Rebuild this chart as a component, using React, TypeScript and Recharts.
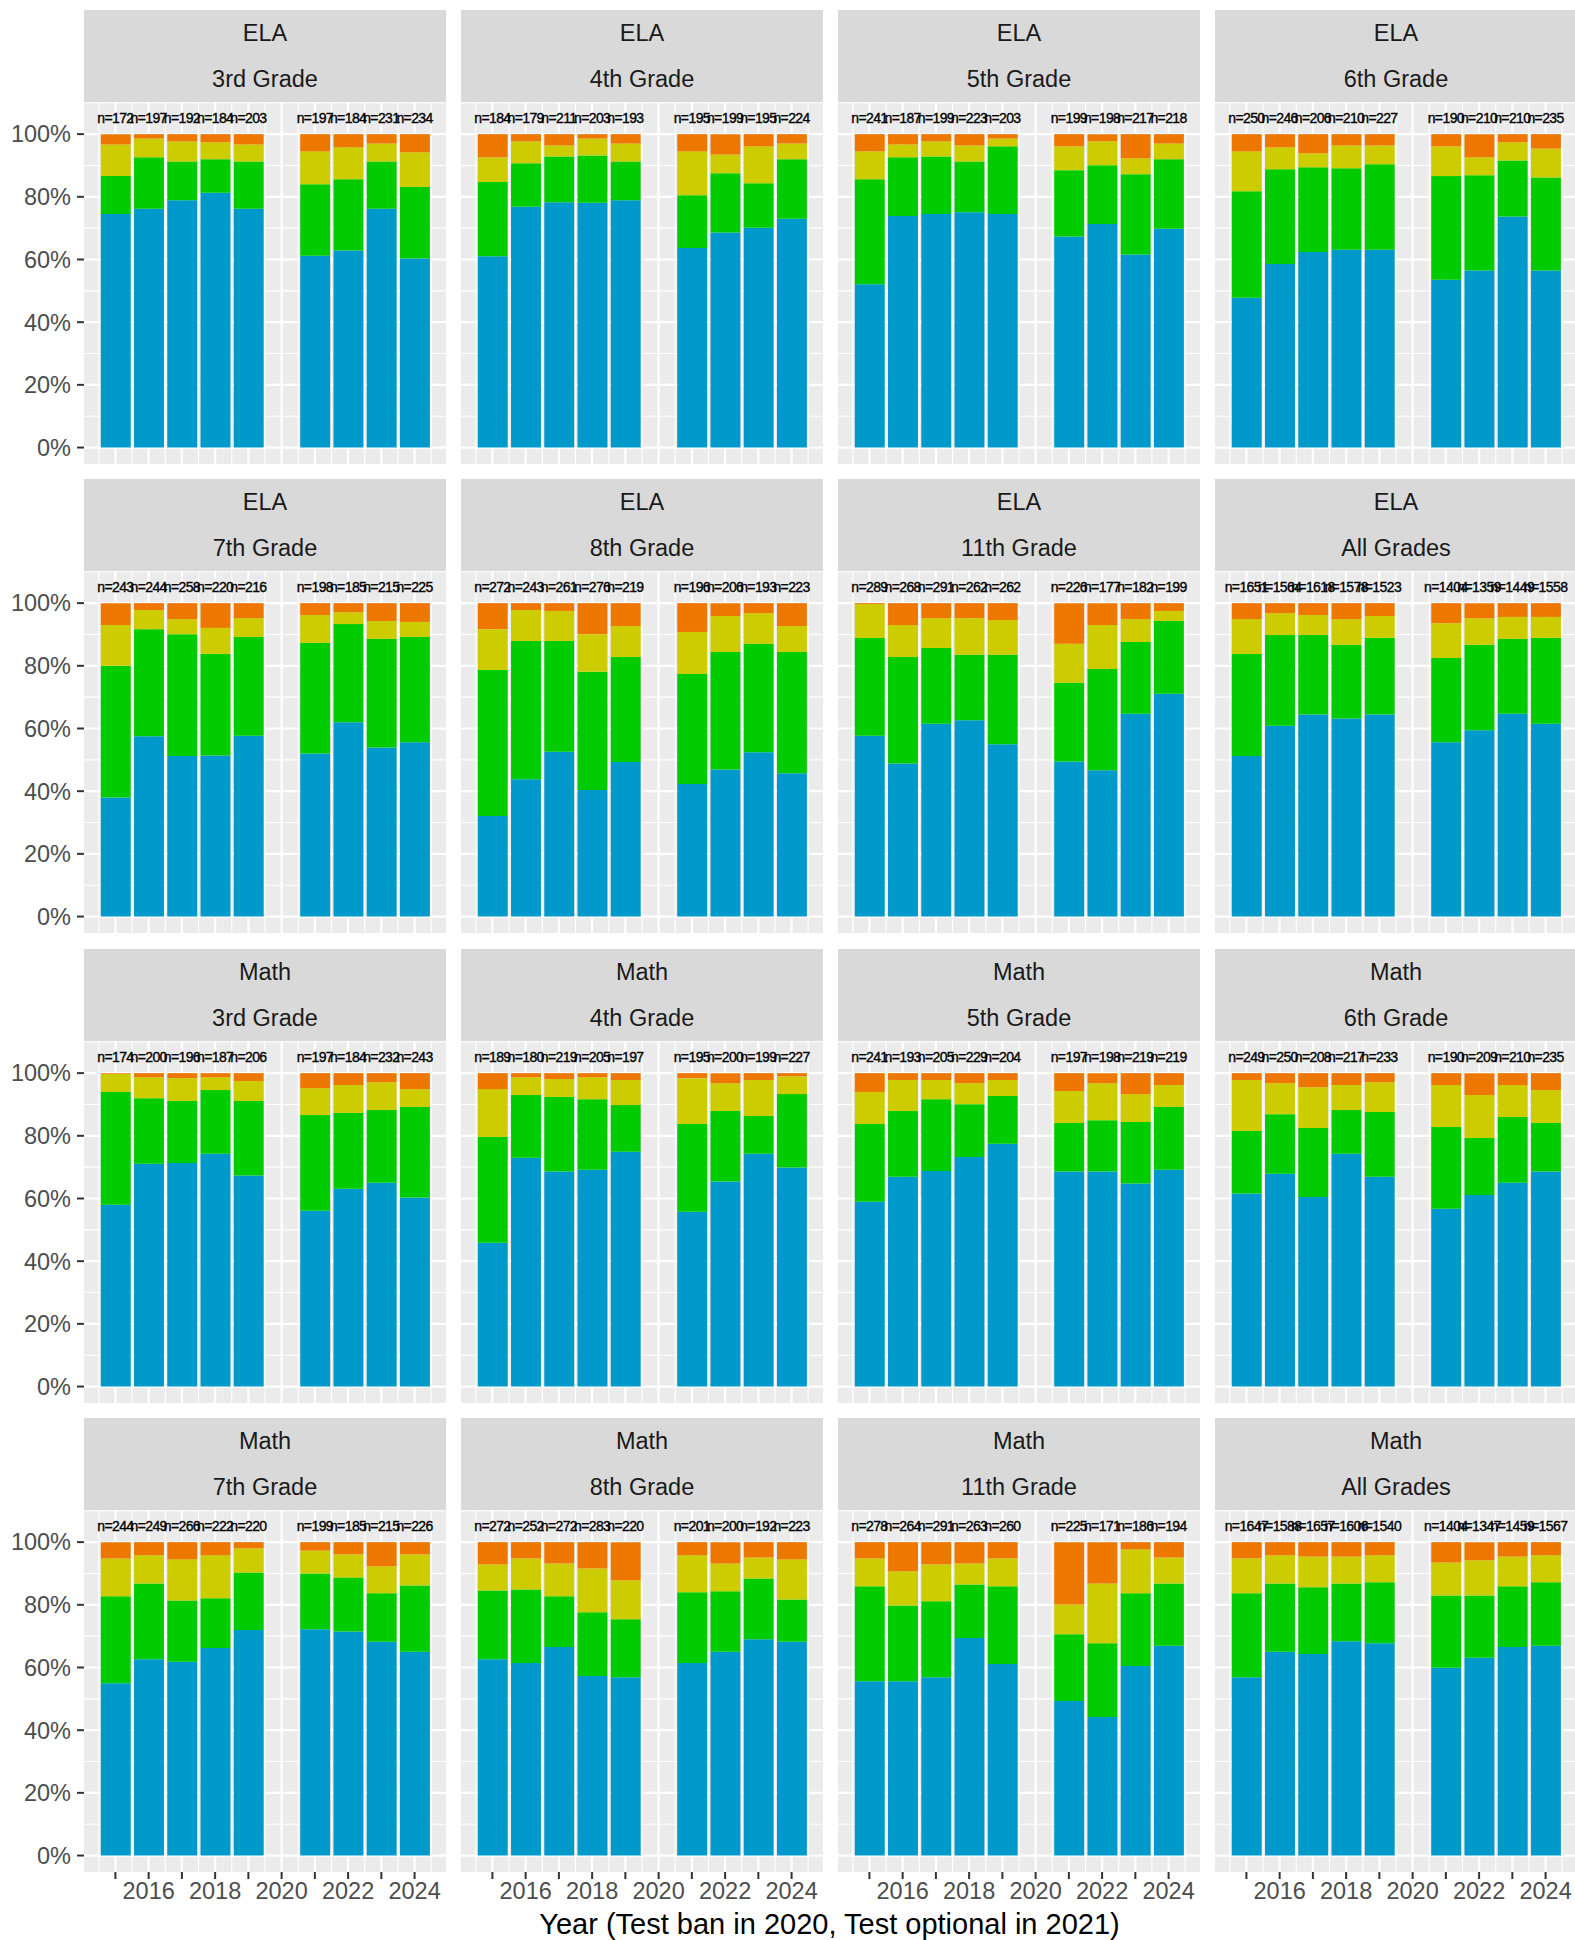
import { ComposedChart, Bar, Scatter, XAxis, YAxis, CartesianGrid } from 'recharts';

// years with data (no test in 2020)
const YEARS = [2015, 2016, 2017, 2018, 2019, 2021, 2022, 2023, 2024];
const AXIS_YEARS = [2015, 2016, 2017, 2018, 2019, 2020, 2021, 2022, 2023, 2024];
const X_MINOR = [2014.5, 2015.5, 2016.5, 2017.5, 2018.5, 2019.5, 2020.5, 2021.5, 2022.5, 2023.5, 2024.5];
const Y_TICKS = [0, 0.2, 0.4, 0.6, 0.8, 1];
const Y_MINOR = [0.1, 0.3, 0.5, 0.7, 0.9, 1.1];

const SUBJECTS = ['ELA', 'ELA', 'ELA', 'ELA', 'ELA', 'ELA', 'ELA', 'ELA',
    'Math', 'Math', 'Math', 'Math', 'Math', 'Math', 'Math', 'Math'];
const GRADES = ['3rd Grade', '4th Grade', '5th Grade', '6th Grade', '7th Grade', '8th Grade', '11th Grade', 'All Grades',
    '3rd Grade', '4th Grade', '5th Grade', '6th Grade', '7th Grade', '8th Grade', '11th Grade', 'All Grades'];

// shares in percent, one row per panel (ELA 3rd ... Math All)
const bluePct = [
    [74.5, 76.2, 78.9, 81.3, 76.2, 61.2, 62.9, 76.2, 60.3],
    [61.0, 76.8, 78.3, 78.1, 78.9, 63.7, 68.6, 70.1, 73.0],
    [52.1, 73.9, 74.5, 75.1, 74.5, 67.3, 71.3, 61.6, 69.8],
    [47.8, 58.6, 62.4, 63.1, 63.1, 53.5, 56.5, 73.7, 56.5],
    [38.0, 57.5, 51.2, 51.4, 57.7, 52.0, 62.0, 53.9, 55.6],
    [32.1, 43.8, 52.6, 40.4, 49.3, 42.3, 46.9, 52.4, 45.7],
    [57.7, 48.8, 61.5, 62.6, 55.0, 49.5, 46.7, 64.7, 71.1],
    [51.2, 60.9, 64.5, 63.2, 64.5, 55.6, 59.4, 64.7, 61.5],
    [58.0, 71.1, 71.3, 74.3, 67.3, 56.1, 63.1, 65.0, 60.3],
    [45.9, 73.0, 68.6, 69.2, 74.9, 55.8, 65.4, 74.3, 69.9],
    [59.0, 66.9, 68.8, 73.2, 77.5, 68.6, 68.6, 64.8, 69.2],
    [61.6, 67.9, 60.5, 74.3, 66.9, 56.7, 61.1, 65.0, 68.6],
    [55.0, 62.6, 61.8, 66.2, 72.0, 72.2, 71.5, 68.2, 65.0],
    [62.6, 61.4, 66.5, 57.3, 56.9, 61.4, 65.0, 69.0, 68.2],
    [55.6, 55.6, 56.9, 69.4, 61.1, 49.3, 44.2, 60.5, 66.9],
    [56.9, 65.0, 64.3, 68.4, 67.7, 59.9, 63.1, 66.5, 66.9],
];

const greenPct = [
    [12.1, 16.4, 12.4, 10.7, 15.1, 22.8, 22.7, 15.1, 22.8],
    [23.7, 13.9, 14.6, 15.1, 12.4, 16.8, 18.9, 14.2, 19.0],
    [33.5, 18.7, 18.4, 16.2, 21.6, 21.2, 18.8, 25.6, 22.2],
    [34.0, 30.2, 27.0, 26.0, 27.3, 33.1, 30.4, 17.9, 29.7],
    [42.0, 34.2, 38.9, 32.4, 31.5, 35.3, 31.3, 34.7, 33.6],
    [46.6, 44.1, 35.3, 37.7, 33.5, 35.1, 37.5, 34.6, 38.7],
    [31.2, 34.0, 24.2, 20.9, 28.5, 25.1, 32.3, 22.9, 23.2],
    [32.6, 28.9, 25.3, 23.5, 24.4, 26.9, 27.3, 23.9, 27.4],
    [36.0, 20.9, 19.8, 20.3, 23.8, 30.5, 24.2, 23.2, 28.9],
    [33.7, 20.0, 23.8, 22.5, 14.9, 28.0, 22.5, 12.0, 23.4],
    [24.8, 21.0, 22.9, 16.9, 15.2, 15.5, 16.4, 19.6, 20.0],
    [19.9, 19.0, 22.0, 13.9, 20.7, 26.1, 18.2, 21.0, 15.5],
    [27.7, 24.2, 19.6, 15.9, 18.3, 17.8, 17.2, 15.5, 21.2],
    [22.0, 23.5, 16.2, 20.3, 18.5, 22.6, 19.3, 19.4, 13.5],
    [30.3, 24.2, 24.2, 17.1, 24.8, 21.3, 23.5, 23.2, 19.9],
    [26.8, 21.8, 21.3, 18.4, 19.5, 23.1, 19.9, 19.4, 20.3],
];

const yellowPct = [
    [10.1, 6.0, 6.4, 5.4, 5.4, 10.5, 10.2, 5.7, 11.1],
    [7.9, 7.0, 3.5, 5.4, 5.7, 14.0, 6.0, 11.8, 5.0],
    [8.9, 4.1, 4.8, 5.1, 2.5, 7.6, 7.6, 5.1, 5.0],
    [12.7, 7.0, 4.5, 7.3, 6.0, 9.5, 5.7, 5.8, 9.2],
    [13.0, 6.1, 4.8, 8.3, 6.0, 8.9, 3.8, 5.7, 4.8],
    [13.0, 9.9, 9.6, 12.0, 9.9, 13.4, 11.5, 9.8, 8.3],
    [10.8, 10.2, 9.5, 11.7, 11.1, 12.4, 14.0, 7.3, 3.2],
    [11.1, 7.0, 6.4, 8.2, 7.0, 11.1, 8.5, 7.0, 6.7],
    [5.7, 6.7, 7.3, 4.1, 6.4, 8.6, 8.9, 8.9, 5.7],
    [15.3, 5.7, 5.7, 7.0, 8.0, 14.6, 8.9, 11.5, 5.7],
    [10.2, 9.9, 6.1, 6.7, 5.1, 10.2, 11.8, 8.9, 7.0],
    [16.3, 9.9, 13.0, 8.0, 9.5, 13.4, 13.7, 10.2, 10.5],
    [12.1, 9.0, 13.1, 13.7, 7.7, 7.3, 7.4, 8.6, 9.9],
    [8.3, 9.9, 10.5, 14.0, 12.4, 11.8, 8.9, 6.7, 12.8],
    [8.9, 10.9, 11.8, 6.7, 8.9, 9.5, 19.1, 14.0, 8.3],
    [11.1, 9.0, 9.8, 8.6, 8.6, 10.5, 11.2, 9.5, 8.6],
];

const orangePct = [
    [3.3, 1.4, 2.3, 2.6, 3.3, 5.5, 4.2, 3.0, 5.8],
    [7.4, 2.3, 3.6, 1.4, 3.0, 5.5, 6.5, 3.9, 3.0],
    [5.5, 3.3, 2.3, 3.6, 1.4, 3.9, 2.3, 7.7, 3.0],
    [5.5, 4.2, 6.1, 3.6, 3.6, 3.9, 7.4, 2.6, 4.6],
    [7.0, 2.2, 5.1, 7.9, 4.8, 3.8, 2.9, 5.7, 6.0],
    [8.3, 2.2, 2.5, 9.9, 7.3, 9.2, 4.1, 3.2, 7.3],
    [0.3, 7.0, 4.8, 4.8, 5.4, 13.0, 7.0, 5.1, 2.5],
    [5.1, 3.2, 3.8, 5.1, 4.1, 6.4, 4.8, 4.4, 4.4],
    [0.3, 1.3, 1.6, 1.3, 2.5, 4.8, 3.8, 2.9, 5.1],
    [5.1, 1.3, 1.9, 1.3, 2.2, 1.6, 3.2, 2.2, 1.0],
    [6.0, 2.2, 2.2, 3.2, 2.2, 5.7, 3.2, 6.7, 3.8],
    [2.2, 3.2, 4.5, 3.8, 2.9, 3.8, 7.0, 3.8, 5.4],
    [5.2, 4.2, 5.5, 4.2, 2.0, 2.7, 3.9, 7.7, 3.9],
    [7.1, 5.2, 6.8, 8.4, 12.2, 4.2, 6.8, 4.9, 5.5],
    [5.2, 9.3, 7.1, 6.8, 5.2, 19.9, 13.2, 2.3, 4.9],
    [5.2, 4.2, 4.6, 4.6, 4.2, 6.5, 5.8, 4.6, 4.2],
];

const nCounts = [
    [172, 197, 192, 184, 203, 197, 184, 231, 234],
    [184, 179, 211, 203, 193, 195, 199, 195, 224],
    [241, 187, 199, 223, 203, 199, 198, 217, 218],
    [250, 246, 206, 210, 227, 190, 210, 210, 235],
    [243, 244, 258, 220, 216, 198, 185, 215, 225],
    [272, 243, 261, 276, 219, 196, 206, 193, 223],
    [289, 268, 291, 262, 262, 226, 177, 182, 199],
    [1651, 1564, 1618, 1578, 1523, 1404, 1359, 1449, 1558],
    [174, 200, 196, 187, 206, 197, 184, 232, 243],
    [189, 180, 219, 205, 197, 195, 200, 199, 227],
    [241, 193, 205, 229, 204, 197, 198, 219, 219],
    [249, 250, 208, 217, 233, 190, 209, 210, 235],
    [244, 249, 266, 222, 220, 199, 185, 215, 226],
    [272, 252, 272, 283, 220, 201, 200, 192, 223],
    [278, 264, 291, 263, 260, 225, 171, 186, 194],
    [1647, 1588, 1657, 1606, 1540, 1404, 1347, 1459, 1567],
];

const N_LABEL_Y = 1.05;

const SERIES = [
    { key: 'blue', color: '#0099CC', values: bluePct },
    { key: 'green', color: '#00CC00', values: greenPct },
    { key: 'yellow', color: '#CCCC00', values: yellowPct },
    { key: 'orange', color: '#EE7700', values: orangePct },
];

const FONT = '"Liberation Sans", Arial, Helvetica, sans-serif';
const PANEL_LEFT = 84;
const COL_STEP = 377;
const PANEL_W = 362;
const ROW_TOP = 10;
const ROW_STEP = 469.3;
const STRIP_H = 92;
const PLOT_H = 362;
const X_AXIS_H = 60;
const X_DOMAIN = [2014.055, 2024.945];
const Y_DOMAIN = [-0.0525, 1.1025];
const BAR_W = (PANEL_W / (X_DOMAIN[1] - X_DOMAIN[0])) * 0.9;

function buildRows(panel: number) {
    return YEARS.map((year, i) => {
        const total = SERIES.reduce((s, ser) => s + ser.values[panel][i], 0);
        const row: any = { year, n: nCounts[panel][i], nY: N_LABEL_Y };
        SERIES.forEach((ser) => {
            row[ser.key] = ser.values[panel][i] / total;
        });
        return row;
    });
}

// eslint-disable-next-line @typescript-eslint/no-explicit-any
const NLabel = (props: any) => {
    const { cx, cy, payload } = props;
    return (
        <text
            x={cx}
            y={cy}
            textAnchor="middle"
            dominantBaseline="central"
            fontSize={14}
            letterSpacing={-0.6}
            fontFamily={FONT}
            fill="#000000"
            stroke="#000000"
            strokeWidth={0.35}
        >
            {`n=${payload.n}`}
        </text>
    );
};

function Panel({ index }: { index: number }) {
    const col = index % 4;
    const row = Math.floor(index / 4);
    const left = PANEL_LEFT + col * COL_STEP;
    const top = ROW_TOP + row * ROW_STEP;
    const showY = col === 0;
    const showX = row === 3;
    const data = buildRows(index);

    return (
        <>
            {/* facet strip */}
            <div
                style={{
                    position: 'absolute',
                    left,
                    top,
                    width: PANEL_W,
                    height: STRIP_H,
                    background: '#D9D9D9',
                    color: '#1A1A1A',
                    fontSize: 23.5,
                    textAlign: 'center',
                }}
            >
                <div style={{ position: 'absolute', left: 0, right: 0, top: 23, transform: 'translateY(-50%)', lineHeight: '28px' }}>
                    {SUBJECTS[index]}
                </div>
                <div style={{ position: 'absolute', left: 0, right: 0, top: 69, transform: 'translateY(-50%)', lineHeight: '28px' }}>
                    {GRADES[index]}
                </div>
            </div>

            <div style={{ position: 'absolute', left: showY ? 0 : left, top: top + STRIP_H }}>
                <ComposedChart
                    width={showY ? left + PANEL_W : PANEL_W}
                    height={PLOT_H + (showX ? X_AXIS_H : 0)}
                    data={data}
                    margin={{ top: 0, right: 0, bottom: 0, left: 0 }}
                >
                    <CartesianGrid
                        fill="#EBEBEB"
                        stroke="#FFFFFF"
                        strokeWidth={1.1}
                        horizontalValues={Y_MINOR}
                        verticalValues={X_MINOR}
                    />
                    <CartesianGrid
                        stroke="#FFFFFF"
                        strokeWidth={2.2}
                        horizontalValues={Y_TICKS}
                        verticalValues={AXIS_YEARS}
                    />
                    <XAxis
                        type="number"
                        dataKey="year"
                        domain={X_DOMAIN}
                        allowDataOverflow
                        ticks={AXIS_YEARS}
                        interval={0}
                        hide={!showX}
                        height={X_AXIS_H}
                        axisLine={false}
                        tickLine={{ stroke: '#333333', strokeWidth: 2 }}
                        tickSize={7}
                        tickMargin={3}
                        tick={{ fill: '#4D4D4D', fontSize: 23.5, fontFamily: FONT }}
                        tickFormatter={(y: number) => (y % 2 === 0 ? String(y) : '')}
                    />
                    <YAxis
                        type="number"
                        domain={Y_DOMAIN}
                        allowDataOverflow
                        ticks={Y_TICKS}
                        interval={0}
                        hide={!showY}
                        width={PANEL_LEFT}
                        axisLine={false}
                        tickLine={{ stroke: '#333333', strokeWidth: 2 }}
                        tickSize={7}
                        tickMargin={6}
                        tick={{ fill: '#4D4D4D', fontSize: 23.5, fontFamily: FONT }}
                        tickFormatter={(v: number) => `${Math.round(v * 100)}%`}
                    />
                    {SERIES.map((s) => (
                        <Bar
                            key={s.key}
                            dataKey={s.key}
                            stackId="a"
                            fill={s.color}
                            barSize={BAR_W}
                            isAnimationActive={false}
                        />
                    ))}
                    <Scatter dataKey="nY" shape={NLabel} isAnimationActive={false} />
                </ComposedChart>
            </div>
        </>
    );
}

export default function App() {
    return (
        <div
            style={{
                position: 'absolute',
                left: 0,
                top: 0,
                width: 1575,
                height: 1940,
                background: '#FFFFFF',
                fontFamily: FONT,
            }}
        >
            {GRADES.map((_, i) => (
                <Panel key={i} index={i} />
            ))}
            <div
                style={{
                    position: 'absolute',
                    left: PANEL_LEFT,
                    width: 1575 - PANEL_LEFT,
                    top: 1907,
                    lineHeight: '34px',
                    textAlign: 'center',
                    fontSize: 29,
                    color: '#000000',
                }}
            >
                Year (Test ban in 2020, Test optional in 2021)
            </div>
        </div>
    );
}
